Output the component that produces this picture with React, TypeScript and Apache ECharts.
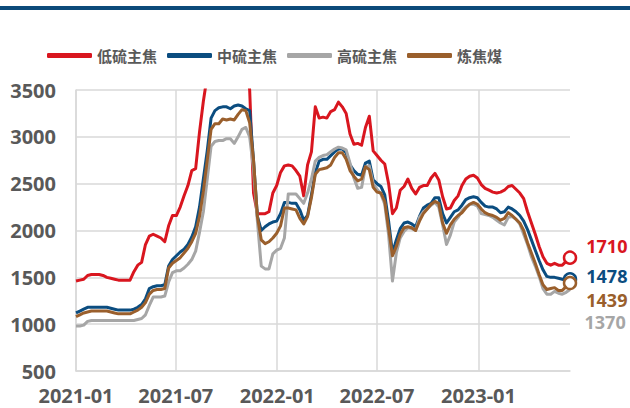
import React, { useEffect, useRef } from "react";
import * as echarts from "echarts";

const seriesNames = ["低硫主焦", "中硫主焦", "高硫主焦", "炼焦煤"];
const seriesColors = ["#d9161f", "#0b4d80", "#a6a6a6", "#9a5f2c"];

// weekly observations starting 2021-01-01
const startDate = [2021, 0, 1];
const weekCount = 129;

const xTickLabels = ["2021-01", "2021-07", "2022-01", "2022-07", "2023-01"];

const lowSulfur = [
  1460, 1470, 1480, 1520, 1530, 1530, 1530, 1520, 1500, 1490,
  1480, 1470, 1470, 1470, 1470, 1560, 1630, 1660, 1850, 1940,
  1960, 1940, 1920, 1880, 2050, 2160, 2160, 2250, 2370, 2480,
  2640, 2660, 3050, 3380, 3650, 3800, 3900, 3950, 4000, 4000,
  4000, 4000, 4000, 3950, 3800, 3500, 2400, 2180, 2180, 2180,
  2200, 2400, 2480, 2620, 2690, 2700, 2690, 2640, 2580, 2370,
  2700, 2840, 3320, 3200, 3210, 3200, 3270, 3290, 3370, 3320,
  3250, 3030, 2920, 2930, 2910, 3100, 3220, 2850, 2800, 2750,
  2710, 2500, 2180, 2240, 2430, 2470, 2550, 2450, 2390, 2460,
  2480, 2480, 2560, 2610, 2540, 2360, 2230, 2240, 2320, 2370,
  2480, 2550, 2580, 2590, 2560, 2490, 2450, 2430, 2410, 2400,
  2410, 2430, 2470, 2480, 2440, 2400, 2340, 2200, 2080, 1960,
  1830, 1720, 1650, 1630, 1650, 1630, 1630, 1670, 1710,
];

const midSulfur = [
  1120, 1140, 1160, 1180, 1180, 1180, 1180, 1180, 1180, 1170,
  1160, 1150, 1150, 1150, 1150, 1160, 1180, 1210, 1270, 1380,
  1400, 1410, 1410, 1420, 1620, 1690, 1730, 1770, 1800, 1850,
  1930, 2040, 2250, 2550, 2850, 3200, 3280, 3310, 3320, 3320,
  3300, 3330, 3340, 3330, 3300, 3280, 2750, 2150, 2000, 2040,
  2070, 2090, 2100, 2180, 2300, 2300, 2290, 2290, 2220, 2110,
  2160, 2380, 2620, 2740, 2760, 2760, 2800, 2840, 2870, 2870,
  2830, 2700, 2640, 2600, 2590, 2720, 2740, 2540, 2500, 2470,
  2380, 2100, 1760, 1900, 2020, 2080, 2090, 2070, 2040, 2150,
  2240, 2270, 2290, 2350, 2350, 2180, 2080, 2140, 2200, 2220,
  2270, 2330, 2350, 2360, 2350, 2300, 2260, 2250, 2250, 2230,
  2190, 2200, 2250, 2230, 2200, 2160, 2100, 2010, 1900, 1790,
  1680, 1580, 1510, 1500, 1500, 1490, 1480, 1470, 1478,
];

const highSulfur = [
  980, 980, 990, 1030, 1040, 1040, 1040, 1040, 1040, 1040,
  1040, 1040, 1040, 1040, 1040, 1040, 1050, 1060, 1100, 1200,
  1290, 1290, 1290, 1300, 1450, 1550, 1570, 1570, 1600, 1640,
  1690, 1780, 1980, 2200, 2550, 2900, 2950, 2960, 2960, 2980,
  2980, 2930, 3000, 3080, 3100, 3000, 2650, 2100, 1620, 1590,
  1590, 1750, 1790, 1810, 1920, 2390, 2390, 2390, 2340, 2290,
  2400, 2550, 2740, 2780, 2800, 2810, 2840, 2870, 2890, 2880,
  2860, 2720, 2560, 2450, 2460, 2680, 2690, 2500, 2440, 2390,
  2280, 1950, 1460, 1760, 1920, 1990, 2030, 2020, 2000, 2140,
  2200, 2230, 2270, 2300, 2250, 2060, 1850, 1950, 2090, 2140,
  2210, 2250, 2280, 2280, 2260, 2180, 2170, 2160, 2140, 2110,
  2080, 2060, 2140, 2150, 2120, 2070, 1960, 1850, 1720, 1620,
  1510, 1380, 1320, 1320, 1350, 1330, 1320, 1340, 1370,
];

const cokingCoal = [
  1080, 1100, 1120, 1130, 1140, 1140, 1140, 1140, 1140, 1130,
  1120, 1110, 1110, 1110, 1110, 1130, 1150, 1180, 1230, 1320,
  1360, 1370, 1370, 1380, 1600, 1650, 1680, 1710, 1760, 1810,
  1880, 1970, 2150, 2420, 2750, 3080, 3140, 3140, 3190, 3180,
  3190, 3180, 3240, 3290, 3280, 3150, 2750, 2150, 1900, 1860,
  1880, 1920, 1970, 2050, 2240, 2240, 2230, 2220, 2130, 2070,
  2150, 2350, 2600, 2650, 2660, 2670, 2700, 2780, 2830, 2830,
  2760, 2640, 2580, 2530, 2550, 2680, 2650, 2460, 2410, 2400,
  2310, 2020, 1730, 1830, 1960, 2030, 2040, 2030, 2000, 2100,
  2180, 2230, 2280, 2310, 2290, 2080, 1970, 2060, 2120, 2160,
  2190, 2240, 2280, 2300, 2280, 2230, 2190, 2170, 2160, 2140,
  2110, 2130, 2190, 2160, 2120, 2080, 2000, 1870, 1760, 1650,
  1530, 1420, 1370, 1380, 1390, 1360, 1360, 1400, 1439,
];

const allValues = [lowSulfur, midSulfur, highSulfur, cokingCoal];

const yMin = 500;
const yMax = 3500;
const yStep = 500;

const endLabelOffsets = [-12, -3, 32, 17];
const endCircle = [true, true, false, true];

const FONT = "'Open Sans', 'Noto Sans CJK SC', sans-serif";
const AXIS_TEXT = "#595959";
const GRID_COLOR = "#d9d9d9";
const NUM_SIZE = 20;
const END_SIZE = 18;

function fmtDate(v: number) {
  const d = new Date(v);
  return d.getFullYear() + "-" + String(d.getMonth() + 1).padStart(2, "0");
}

function parseMonth(s: string) {
  const [y, m] = s.split("-").map(Number);
  return new Date(y, m - 1, 1).getTime();
}

export default function App() {
  const ref = useRef<HTMLDivElement>(null);

  useEffect(() => {
    if (!ref.current) return;
    const chart = echarts.init(ref.current, undefined, { renderer: "svg" });
    const dates: number[] = [];
    for (let i = 0; i < weekCount; i++) {
      dates.push(new Date(startDate[0], startDate[1], startDate[2] + 7 * i).getTime());
    }
    const last = weekCount - 1;
    const tickValues = xTickLabels.map(parseMonth);

    const series = seriesNames.map((name, si) => {
      const vals = allValues[si];
      const color = seriesColors[si];
      return {
        name,
        type: "line",
        data: dates.map((d, i) => [d, vals[i]]),
        showSymbol: false,
        symbol: "none",
        color,
        lineStyle: { width: 3, color, join: "round" },
        clip: true,
        markPoint: {
          symbol: "circle",
          symbolSize: endCircle[si] ? 12 : 1,
          silent: true,
          itemStyle: endCircle[si]
            ? { color: "#ffffff", borderColor: color, borderWidth: 2.5 }
            : { color: "rgba(0,0,0,0)" },
          label: {
            show: true,
            position: "right",
            distance: 5,
            offset: [endCircle[si] ? 4 : 9, endLabelOffsets[si]],
            formatter: String(vals[last]),
            color,
            fontSize: END_SIZE,
            lineHeight: 17,
            fontWeight: "bold",
            fontFamily: FONT,
          },
          data: [{ coord: [dates[last], vals[last]], value: vals[last] }],
        },
      };
    });

    chart.setOption({
      animation: false,
      backgroundColor: "#ffffff",
      graphic: [
        {
          type: "rect",
          left: 0,
          top: 6,
          shape: { width: 630, height: 4 },
          style: { fill: "#0c4a7a" },
        },
      ],
      legend: {
        data: seriesNames,
        top: 43,
        left: 42,
        itemWidth: 45,
        itemHeight: 5,
        itemGap: 10,
        icon: "roundRect",
        textStyle: {
          fontSize: 15,
          fontWeight: "bold",
          color: AXIS_TEXT,
          fontFamily: "'Noto Sans CJK SC', sans-serif",
        },
      },
      grid: { left: 76, right: 60, top: 90, bottom: 37 },
      xAxis: {
        type: "value",
        min: dates[0],
        max: dates[last],
        axisLine: { show: true, lineStyle: { color: GRID_COLOR, width: 1.5 } },
        axisTick: { show: false, customValues: tickValues },
        splitLine: { show: true, lineStyle: { color: GRID_COLOR, width: 1.5 } },
        axisLabel: {
          customValues: tickValues,
          formatter: (v: number) => fmtDate(v),
          fontSize: NUM_SIZE,
          fontWeight: "bold",
          color: AXIS_TEXT,
          fontFamily: FONT,
          margin: 14,
        },
      },
      yAxis: {
        type: "value",
        min: yMin,
        max: yMax,
        interval: yStep,
        axisLine: { show: true, lineStyle: { color: GRID_COLOR, width: 1.5 } },
        axisTick: { show: false },
        splitLine: { show: true, lineStyle: { color: GRID_COLOR, width: 1.5 } },
        axisLabel: {
          formatter: (v: number) => String(v),
          fontSize: NUM_SIZE,
          fontWeight: "bold",
          color: AXIS_TEXT,
          fontFamily: FONT,
          margin: 20,
        },
      },
      series,
    });

    return () => chart.dispose();
  }, []);

  return (
    <div
      ref={ref}
      style={{ position: "fixed", left: 0, top: 0, width: 630, height: 408, background: "#fff" }}
    />
  );
}
